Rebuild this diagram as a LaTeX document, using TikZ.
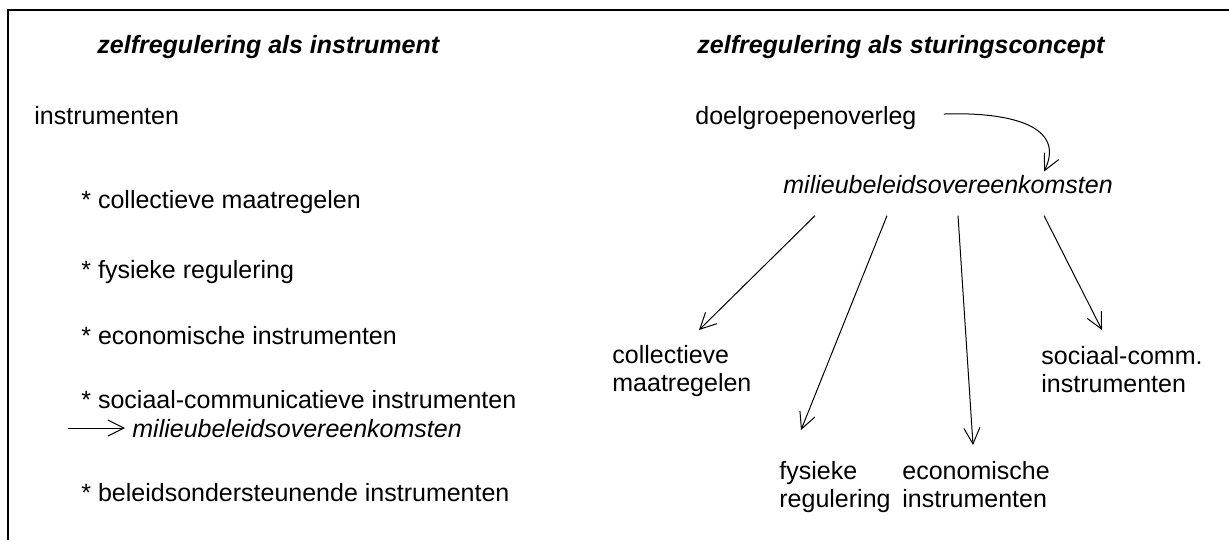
\documentclass[tikz,border=0pt]{standalone}
\usepackage{fontspec}
\setmainfont{Liberation Sans}
\usetikzlibrary{arrows.meta}
\tikzset{
  txt/.style={inner sep=0pt,font=\fontsize{12.5}{14}\selectfont},
  kop/.style={txt,anchor=base west,font=\fontsize{12.5}{14}\selectfont\bfseries\itshape},
  item/.style={txt,anchor=base west},
  doel/.style={txt,anchor=north west,align=left},
  pijl/.style={-{Straight Barb[length=8pt,width=8pt]},line width=0.5pt},
  rand/.style={line width=1.2pt}
}
\begin{document}
\begin{tikzpicture}[x=0.5pt,y=-0.5pt]
  \useasboundingbox (0,0) rectangle (1229,540);
  \draw[rand] (1229,10) -| (8,540);
  % linker kolom
  \node[kop] (kopL) at (97,54) {zelfregulering als instrument};
  \node[item] (instr) at (34,125) {instrumenten};
  \node[item] (collL) at (81,208) {* collectieve maatregelen};
  \node[item] (fysL) at (81,278) {* fysieke regulering};
  \node[item] (econL) at (81,344) {* economische instrumenten};
  \node[item] (socL) at (81,408) {* sociaal-communicatieve instrumenten};
  \node[item,font=\fontsize{12.5}{14}\selectfont\itshape] (mboL) at (132,437) {milieubeleidsovereenkomsten};
  \node[item] (belL) at (81,501) {* beleidsondersteunende instrumenten};
  \draw[pijl] ([xshift=-32pt]mboL.west) -- ([xshift=-3.5pt]mboL.west);
  % rechter kolom
  \node[kop] (kopR) at (697,54) {zelfregulering als sturingsconcept};
  \node[item] (doelgr) at (695,124) {doelgroepenoverleg};
  \node[item,font=\fontsize{12.5}{14}\selectfont\itshape] (mbo) at (783,193) {milieubeleidsovereenkomsten};
  \node[doel] (coll) at (612,345) {collectieve\\maatregelen};
  \node[doel] (fys) at (779,461) {fysieke\\regulering};
  \node[doel] (econ) at (902,461) {economische\\instrumenten};
  \node[doel] (soc) at (1041,346) {sociaal-comm.\\instrumenten};
  \draw[pijl] ([xshift=13.5pt,yshift=1.75pt]doelgr.east) .. controls (1000,112) and (1068,122) .. ([xshift=48pt,yshift=1.5pt]mbo.north);
  \draw[pijl] ([xshift=16pt,yshift=-11pt]mbo.south west) -- ([xshift=43.5pt,yshift=7.5pt]coll.north west);
  \draw[pijl] ([xshift=52pt,yshift=-11pt]mbo.south west) -- ([xshift=11pt,yshift=15.5pt]fys.north west);
  \draw[pijl] ([xshift=87.5pt,yshift=-11pt]mbo.south west) -- ([xshift=35.5pt,yshift=8pt]econ.north west);
  \draw[pijl] ([xshift=130.5pt,yshift=-11pt]mbo.south west) -- ([xshift=30.5pt,yshift=8pt]soc.north west);
\end{tikzpicture}
\end{document}
